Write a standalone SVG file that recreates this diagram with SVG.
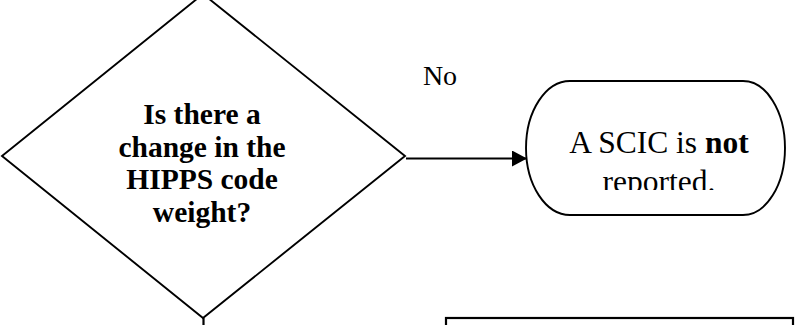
<svg xmlns="http://www.w3.org/2000/svg" width="795" height="325" viewBox="0 0 795 325">
  <style>
    .shape { fill: #fff; stroke: #000; stroke-width: 1.9; }
    .conn { fill: none; stroke: #000; stroke-width: 2.2; }
    .t { font-family: "Liberation Serif", "Times New Roman", serif; fill: #000; text-anchor: middle; }
    .b { font-weight: bold; font-size: 29.5px; }
    .r { font-size: 31.5px; }
  </style>
  <defs>
    <marker id="arrow" markerWidth="15" markerHeight="16" refX="15" refY="8" orient="auto" markerUnits="userSpaceOnUse">
      <path d="M0,0 L15,8 L0,16 Z" fill="#000"/>
    </marker>
    <clipPath id="clipTerm">
      <rect x="520" y="75" width="275" height="115"/>
    </clipPath>
  </defs>
  <rect width="795" height="325" fill="#fff"/>

  <g id="connectors">
    <line class="conn" x1="406" y1="158.5" x2="527" y2="158.5" marker-end="url(#arrow)"/>
    <line class="conn" x1="203.5" y1="318" x2="203.5" y2="325"/>
    <text class="t" x="440" y="85" style="font-size:28px">No</text>
  </g>

  <g id="decision">
    <polygon class="shape" points="203,-6 405,156 203,318 2,156"/>
    <text class="t b" x="202" y="124">Is there a</text>
    <text class="t b" x="202" y="156.5">change in the</text>
    <text class="t b" x="202" y="189">HIPPS code</text>
    <text class="t b" x="202" y="221.5">weight?</text>
  </g>

  <g id="terminal">
    <path class="shape" d="M570,81 H743 A42,67 0 0 1 743,215 H570 A44,67 0 0 1 570,81 Z"/>
    <g clip-path="url(#clipTerm)">
      <text class="t r" x="659" y="153">A SCIC is <tspan font-weight="bold">not</tspan></text>
      <text class="t r" x="659" y="192">reported.</text>
    </g>
  </g>

  <g id="process">
    <rect x="446" y="318" width="347" height="20" fill="#fff" stroke="#000" stroke-width="2.2"/>
  </g>
</svg>
